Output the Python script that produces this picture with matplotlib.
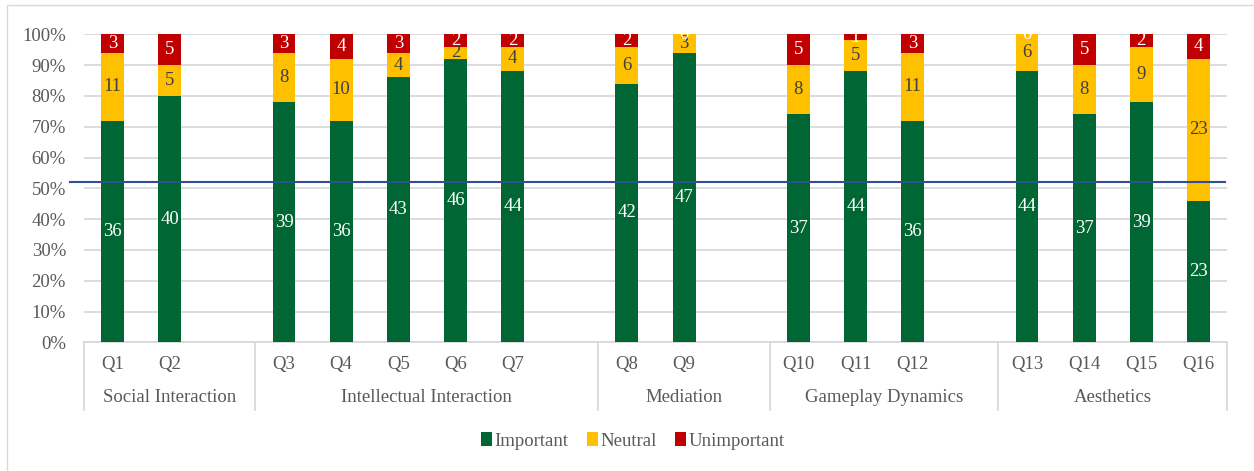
import matplotlib
matplotlib.use("Agg")
import matplotlib.pyplot as plt
import matplotlib.transforms as mtransforms
from matplotlib.patches import Rectangle, Patch
import numpy as np

plt.rcParams['font.family'] = ['Liberation Serif', 'DejaVu Serif']

groups = ["Social Interaction", "Intellectual Interaction", "Mediation",
          "Gameplay Dynamics", "Aesthetics"]
group_questions = [["Q1", "Q2"], ["Q3", "Q4", "Q5", "Q6", "Q7"], ["Q8", "Q9"],
                   ["Q10", "Q11", "Q12"], ["Q13", "Q14", "Q15", "Q16"]]
important = [36, 40, 39, 36, 43, 46, 44, 42, 47, 37, 44, 36, 44, 37, 39, 23]
neutral = [11, 5, 8, 10, 4, 2, 4, 6, 3, 8, 5, 11, 6, 8, 9, 23]
unimportant = [3, 5, 3, 4, 3, 2, 2, 2, 0, 5, 1, 3, 0, 5, 2, 4]
series_names = ["Important", "Neutral", "Unimportant"]
threshold = 0.52

colors = ["#006633", "#FFC000", "#C00000"]
label_colors = ["white", "#404040", "white"]
gray_text = "#595959"
grid_col = "#D9D9D9"
FS = 13.5

W, H = 1254, 471
fig = plt.figure(figsize=(W / 100, H / 100), dpi=100)
ax = fig.add_axes([84 / W, 1 - 342.3 / H, (1227 - 84) / W, (342.3 - 34.3) / H])

# slot positions: one blank slot between groups
positions = []
bounds = [-0.5]
slot = 0
for gi, qs in enumerate(group_questions):
    for q in qs:
        positions.append(slot)
        slot += 1
    if gi < len(group_questions) - 1:
        slot += 1
    bounds.append(slot - 0.5)
nslots = slot
positions = np.array(positions)
questions = [q for qs in group_questions for q in qs]

data = np.array([important, neutral, unimportant], dtype=float)
totals = data.sum(axis=0)
pct = data / totals

bottom = np.zeros(len(questions))
for si in range(3):
    ax.bar(positions, pct[si], bottom=bottom, width=0.40, color=colors[si],
           label=series_names[si], zorder=3)
    for x, b, h, v in zip(positions, bottom, pct[si], data[si]):
        ax.text(x, b + h / 2, f"{int(v)}", ha="center", va="center",
                fontsize=FS, color=label_colors[si], zorder=4)
    bottom += pct[si]

ax.set_xlim(-0.5, nslots - 0.5)
ax.set_ylim(0, 1)
ax.set_yticks(np.arange(0, 1.01, 0.1))
ax.set_yticklabels([f"{int(round(v * 100))}%" for v in np.arange(0, 1.01, 0.1)])
ax.yaxis.grid(True, color=grid_col, linewidth=1.3, zorder=0)
ax.set_axisbelow(True)
ax.tick_params(axis="y", length=0, pad=13, labelsize=FS, labelcolor=gray_text)
ax.set_xticks([])
for s in ["top", "right", "left"]:
    ax.spines[s].set_visible(False)
ax.spines["bottom"].set_color(grid_col)
ax.spines["bottom"].set_linewidth(1.3)

# threshold line (extends slightly left of plot)
ax.plot([-0.75, nslots - 0.53], [threshold, threshold], color="#2E5090",
        linewidth=1.5, zorder=5, clip_on=False)

# category axis
trans = mtransforms.blended_transform_factory(ax.transData, ax.transAxes)
px = 1 / (342.3 - 34.3)
for b in bounds:
    ax.plot([b, b], [0, -(410 - 342.3) * px], color=grid_col, linewidth=1.3,
            transform=trans, clip_on=False)
for x, q in zip(positions, questions):
    ax.text(x, -(364 - 342.3) * px, q, transform=trans, ha="center",
            va="center", fontsize=FS, color=gray_text)
for gi, g in enumerate(groups):
    c = (bounds[gi] + bounds[gi + 1]) / 2
    ax.text(c, -(398 - 342.3) * px, g, transform=trans, ha="center",
            va="center", fontsize=FS, color=gray_text)

# legend
handles = [Patch(facecolor=c) for c in colors]
fig.legend(handles, series_names, loc="center", bbox_to_anchor=(633 / W, 1 - 441 / H),
           ncol=3, frameon=False, fontsize=FS, labelcolor=gray_text,
           handlelength=0.55, handleheight=0.75, handletextpad=0.15, columnspacing=1.0)

# chart border
fig.patches.append(Rectangle((7 / W, -0.1), 1.2, 1 - 5 / H + 0.1,
                             transform=fig.transFigure, fill=False,
                             edgecolor="#D9D9D9", linewidth=1.0))

fig.savefig("out.png", dpi=100)
